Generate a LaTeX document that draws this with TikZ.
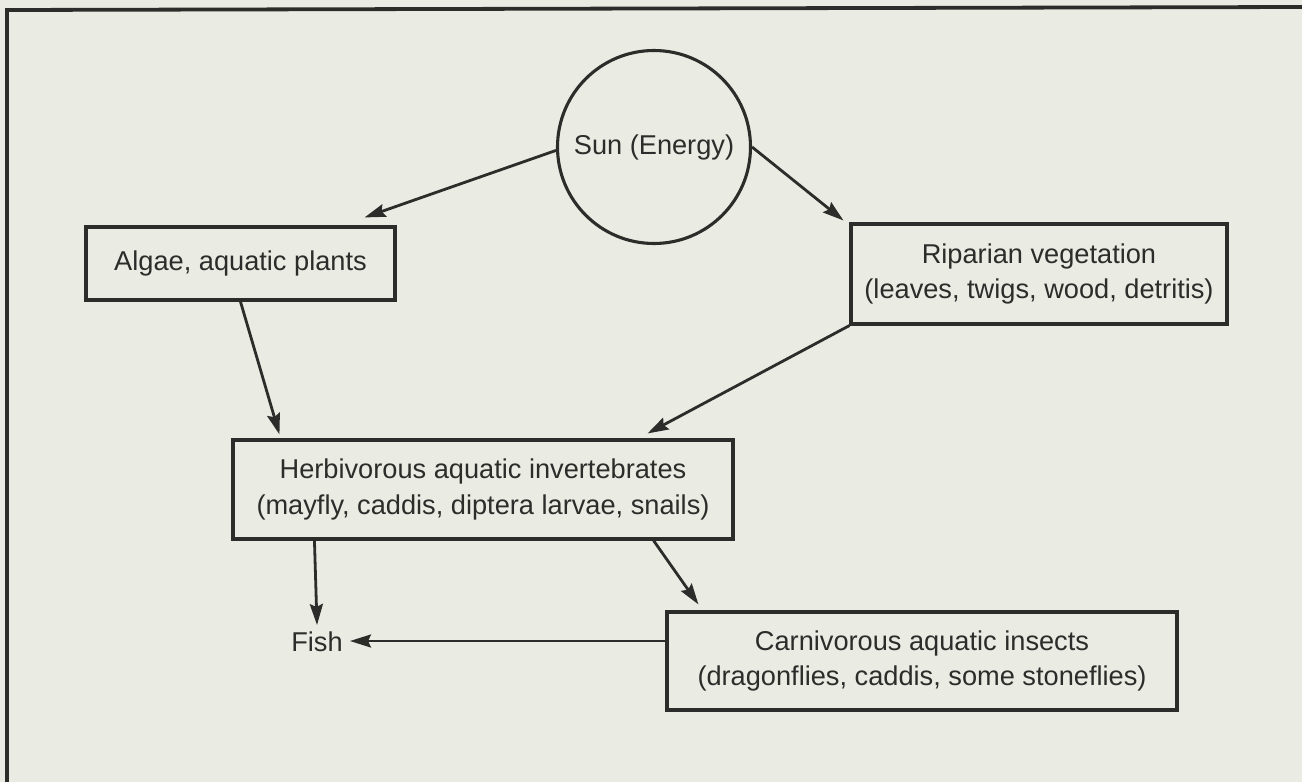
\documentclass[tikz,border=0pt]{standalone}
\usepackage{fontspec}
\setmainfont{Liberation Sans}
\usetikzlibrary{arrows.meta,calc}
\definecolor{paper}{RGB}{234,235,227}
\definecolor{ink}{RGB}{44,44,42}
\begin{document}
\begin{tikzpicture}[x=1pt,y=-1pt,
  every node/.style={font=\fontsize{27.2}{35.5}\selectfont, text=ink},
  box/.style={draw=ink, line width=3.1pt, align=center, inner sep=0pt},
  flow/.style={draw=ink, line width=2.8pt, -{Stealth[length=21pt,width=13pt,inset=3pt]}},
]
% paper and frame
\fill[paper] (0,0) rectangle (1302,782);
\useasboundingbox (0,0) rectangle (1302,782);
\draw[ink, line width=3.8pt] (7,782) -- (7,10) -- (1302,7);

% nodes
\node[draw=ink, line width=3.1pt, circle, minimum size=193pt, inner sep=0pt] (sun) at (654,147) {Sun (Energy)};
\node[box, minimum width=309pt, minimum height=73pt] (algae) at (240.5,263.5) {Algae, aquatic plants};
\node[box, minimum width=376pt, minimum height=100pt] (ripar) at (1039,274) {Riparian vegetation\\(leaves, twigs, wood, detritis)};
\node[box, minimum width=500pt, minimum height=99pt] (herb) at (483,489.5) {Herbivorous aquatic invertebrates\\(mayfly, caddis, diptera larvae, snails)};
\node[box, minimum width=510pt, minimum height=98pt] (carn) at (922,661) {Carnivorous aquatic insects\\(dragonflies, caddis, some stoneflies)};
\node[inner sep=0pt] (fish) at (317,642) {Fish};

% energy flow
\draw[flow] (sun.182) -- ($(algae.north east)+(-32,-8)$);
\draw[flow] (sun.0) -- ($(ripar.north west)+(-6,-2)$);
\draw[flow] ($(algae.south west)+(156,0)$) -- ($(herb.north west)+(48,-4)$);
\draw[flow] (ripar.south west) -- ($(herb.north east)+(-87,-5)$);
\draw[flow] ($(herb.south west)+(83,0)$) -- ($(fish.center)+(0,-17)$);
\draw[flow] ($(herb.south east)+(-81,0)$) -- ($(carn.north west)+(33,-6)$);
\draw[flow] ($(carn.west)+(0,-20)$) -- ($(fish.center)+(33,-1)$);
\end{tikzpicture}
\end{document}
